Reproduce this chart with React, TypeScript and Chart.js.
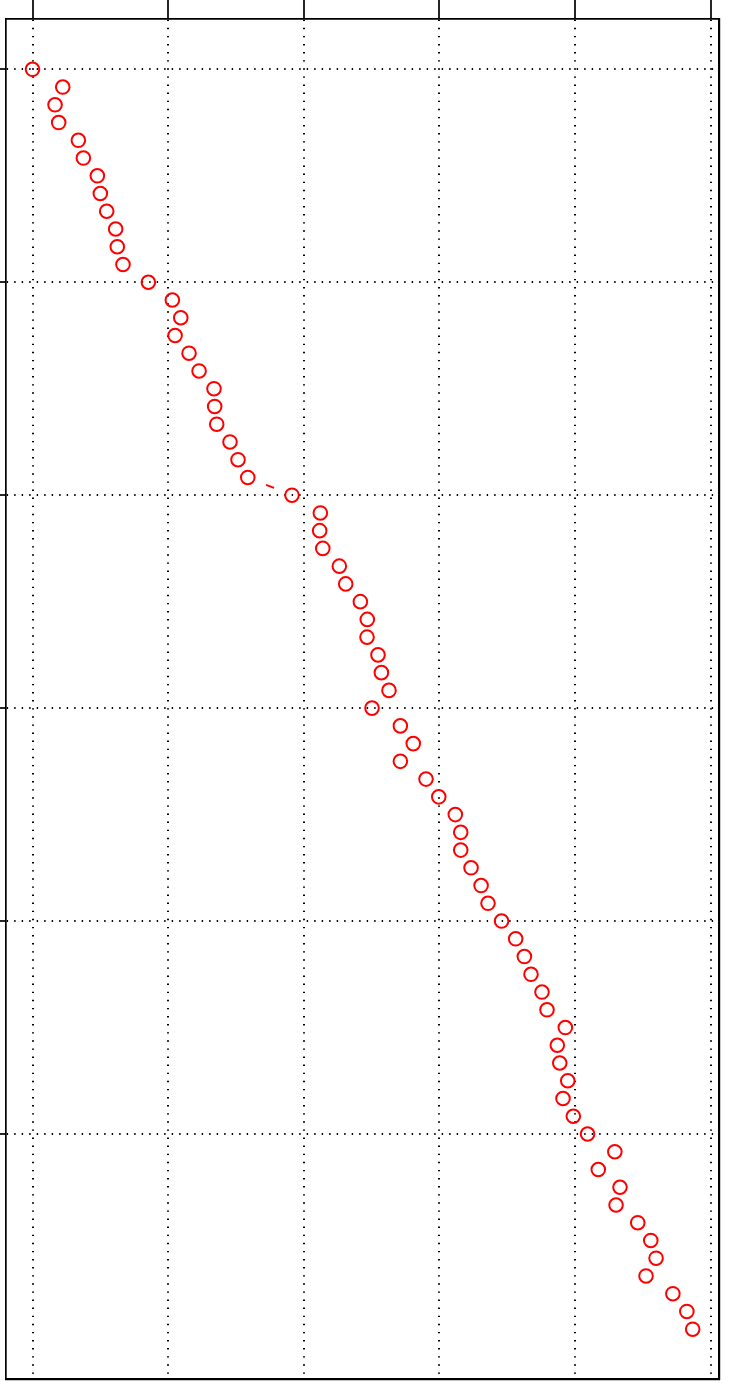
import React, { useEffect, useRef } from "react";
import { Chart, registerables } from "chart.js";

Chart.register(...registerables);

// Horizontal position of each marker (grid step = 1 unit)
const xValues = [
  0.0, 0.223, 0.166, 0.193, 0.338, 0.375, 0.478, 0.5, 0.547, 0.613, 0.625, 0.667,
  0.854, 1.031, 1.093, 1.051, 1.154, 1.228, 1.338, 1.343, 1.358, 1.456, 1.515, 1.587,
  1.913, 2.122, 2.117, 2.14, 2.262, 2.309, 2.417, 2.468, 2.466, 2.547, 2.572, 2.628,
  2.503, 2.712, 2.807, 2.712, 2.901, 2.995, 3.117, 3.157, 3.157, 3.233, 3.307, 3.358,
  3.458, 3.562, 3.626, 3.675, 3.756, 3.793, 3.928, 3.869, 3.887, 3.946, 3.911, 3.987,
  4.092, 4.293, 4.171, 4.331, 4.302, 4.462, 4.558, 4.597, 4.523, 4.721, 4.824, 4.867,
];

// Row index of each marker (top to bottom)
const yValues = [
  0, 1, 2, 3, 4, 5, 6, 7, 8, 9, 10, 11,
  12, 13, 14, 15, 16, 17, 18, 19, 20, 21, 22, 23,
  24, 25, 26, 27, 28, 29, 30, 31, 32, 33, 34, 35,
  36, 37, 38, 39, 40, 41, 42, 43, 44, 45, 46, 47,
  48, 49, 50, 51, 52, 53, 54, 55, 56, 57, 58, 59,
  60, 61, 62, 63, 64, 65, 66, 67, 68, 69, 70, 71,
];

const xTicks = [0, 1, 2, 3, 4, 5];
const yTicks = [0, 12, 24, 36, 48, 60];

const X_MIN = -0.1954;
const X_MAX = 5.061;
const Y_MIN = -2.835;
const Y_MAX = 73.807;

export default function App() {
  const ref = useRef<HTMLCanvasElement | null>(null);

  useEffect(() => {
    if (!ref.current) return;
    const data = xValues.map((x, i) => ({ x, y: yValues[i] }));
    const chart = new Chart(ref.current, {
      type: "scatter",
      data: {
        datasets: [
          {
            data,
            showLine: true,
            borderColor: "#ff0000",
            borderWidth: 1.9,
            backgroundColor: "rgba(0,0,0,0)",
            pointRadius: 6.8,
            pointBorderWidth: 2,
            pointBorderColor: "#ff0000",
            pointBackgroundColor: "rgba(0,0,0,0)",
            pointHoverRadius: 6.8,
            segment: {
              borderColor: (ctx: any) =>
                Math.abs(xValues[ctx.p1DataIndex] - xValues[ctx.p0DataIndex]) > 0.3
                  ? "#ff0000"
                  : "rgba(0,0,0,0)",
              borderDash: (ctx: any) =>
                Math.abs(xValues[ctx.p1DataIndex] - xValues[ctx.p0DataIndex]) > 0.3
                  ? [0, 19.7, 8.6, 1000]
                  : [],
            },
          } as any,
        ],
      },
      options: {
        responsive: false,
        animation: false,
        devicePixelRatio: 1,
        layout: { autoPadding: false, padding: { top: 0, left: 0, right: 10, bottom: 9 } },
        plugins: { legend: { display: false }, tooltip: { enabled: false } },
        events: [],
        scales: {
          x: {
            type: "linear",
            position: "top",
            min: X_MIN,
            max: X_MAX,
            afterBuildTicks: (scale: any) => {
              scale.ticks = xTicks.map((v) => ({ value: v }));
            },
            afterFit: (scale: any) => {
              scale.height = 19;
            },
            ticks: { display: false },
            grid: {
              color: "#000000",
              lineWidth: 2,
              drawTicks: true,
              tickLength: 19,
              tickWidth: 1.7,
              tickColor: "#000000",
              tickBorderDash: [],
            } as any,
            border: { display: true, color: "#000000", width: 1.7, dash: [1.4, 6.7] },
          },
          y: {
            type: "linear",
            position: "left",
            reverse: true,
            min: Y_MIN,
            max: Y_MAX,
            afterBuildTicks: (scale: any) => {
              scale.ticks = yTicks.map((v) => ({ value: v }));
            },
            afterFit: (scale: any) => {
              scale.width = 6;
            },
            ticks: { display: false },
            grid: {
              color: "#000000",
              lineWidth: 2,
              drawTicks: true,
              tickLength: 6,
              tickWidth: 1.7,
              tickColor: "#000000",
              tickBorderDash: [],
            } as any,
            border: { display: true, color: "#000000", width: 1.7, dash: [1.4, 6.1] },
          },
          x2: {
            type: "linear",
            position: "bottom",
            display: true,
            min: X_MIN,
            max: X_MAX,
            afterFit: (scale: any) => {
              scale.height = 0;
            },
            ticks: { display: false },
            grid: { display: false, drawTicks: false },
            border: { display: true, color: "#000000", width: 2.2 },
          },
          y2: {
            type: "linear",
            position: "right",
            display: true,
            min: Y_MIN,
            max: Y_MAX,
            afterFit: (scale: any) => {
              scale.width = 0;
            },
            ticks: { display: false },
            grid: { display: false, drawTicks: false },
            border: { display: true, color: "#000000", width: 2.2 },
          },
        },
      } as any,
    });
    return () => chart.destroy();
  }, []);

  return (
    <div style={{ position: "absolute", left: 0, top: 0, width: 729, height: 1388, background: "#ffffff" }}>
      <canvas ref={ref} width={729} height={1388} style={{ display: "block" }} />
    </div>
  );
}
